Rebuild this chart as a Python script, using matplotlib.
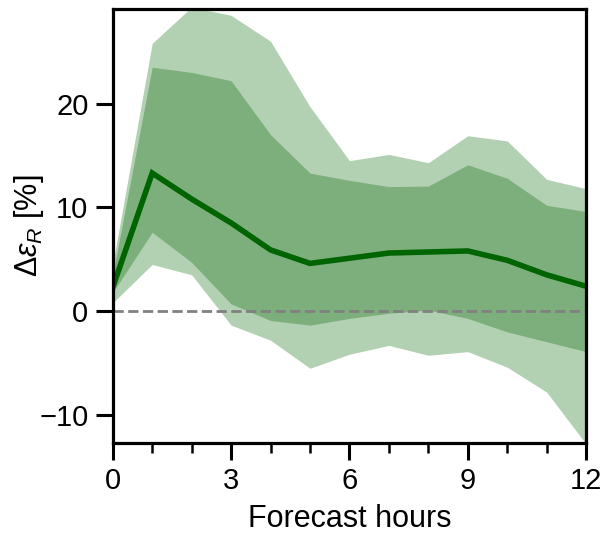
import matplotlib
matplotlib.use('Agg')
import matplotlib.pyplot as plt
from matplotlib.ticker import MultipleLocator

plt.rcParams['font.family'] = ['Liberation Sans', 'DejaVu Sans']
plt.rcParams['mathtext.fontset'] = 'custom'
plt.rcParams['mathtext.it'] = 'Liberation Sans:italic'
plt.rcParams['mathtext.rm'] = 'Liberation Sans'

# forecast hours and percentiles of the relative error change
hours = list(range(13))
median = [2.3, 13.3, 10.8, 8.5, 5.9, 4.6, 5.1, 5.6, 5.7, 5.8, 4.9, 3.5, 2.4]
inner_lo = [1.8, 7.6, 4.7, 0.7, -0.9, -1.35, -0.7, -0.2, 0.1, -0.7, -2.0, -2.95, -3.9]
inner_hi = [3.5, 23.5, 23.0, 22.2, 17.0, 13.3, 12.6, 12.0, 12.05, 14.1, 12.8, 10.2, 9.6]
outer_lo = [0.8, 4.5, 3.5, -1.35, -2.8, -5.5, -4.15, -3.3, -4.25, -3.9, -5.4, -7.8, -12.8]
outer_hi = [4.5, 25.8, 29.3, 28.5, 26.0, 19.7, 14.5, 15.1, 14.3, 16.9, 16.4, 12.7, 11.8]


def main():
    fig = plt.figure(figsize=(6.03, 5.35), dpi=100)
    ax = fig.add_axes([0.187, 0.172, 0.785, 0.811])

    ax.fill_between(hours, outer_lo, outer_hi, color='darkgreen', alpha=0.3, lw=0)
    ax.fill_between(hours, inner_lo, inner_hi, color='darkgreen', alpha=0.3, lw=0)
    ax.plot(hours, median, color='darkgreen', lw=4, solid_joinstyle='miter')
    ax.axhline(0, color='gray', ls='--', lw=2, zorder=1.5)

    ax.set_xlim(0, 12)
    ax.set_ylim(-12.7, 29.1)
    ax.xaxis.set_major_locator(MultipleLocator(3))
    ax.xaxis.set_minor_locator(MultipleLocator(1))
    ax.yaxis.set_major_locator(MultipleLocator(10))
    for s in ax.spines.values():
        s.set_linewidth(2.3)
    ax.tick_params(which='major', length=12.5, width=2.2, labelsize=21, pad=5)
    ax.tick_params(which='minor', length=7, width=1.8)
    ax.set_xlabel('Forecast hours', fontsize=22, labelpad=6)
    ax.set_ylabel(r'$\Delta\varepsilon_R$ [%]', fontsize=22)
    ax.yaxis.set_label_coords(-0.142, 0.5)

    fig.savefig('out.png', dpi=100)


if __name__ == "__main__":
    main()
